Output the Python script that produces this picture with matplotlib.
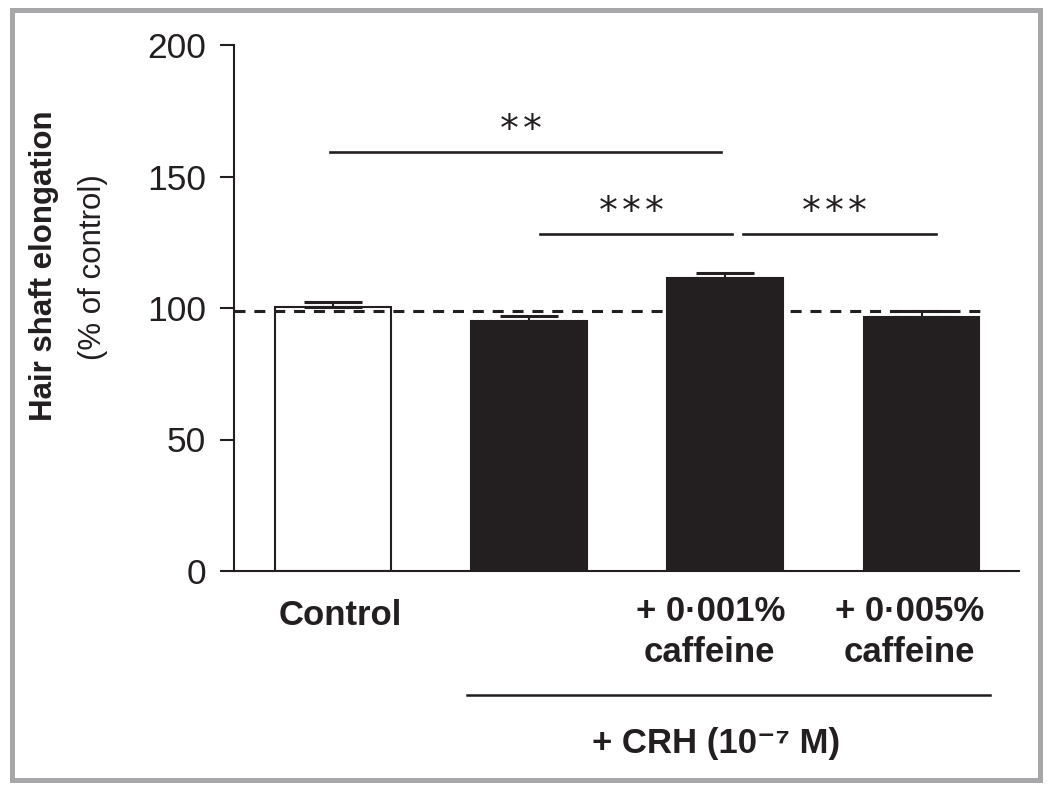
import numpy as np
import matplotlib
matplotlib.use('Agg')
import matplotlib.pyplot as plt
import matplotlib.transforms as mtransforms
from matplotlib.patches import Rectangle

plt.rcParams['font.family'] = ['Liberation Sans', 'DejaVu Sans']

# data
groups = ['Control', 'CRH', 'CRH + 0.001% caffeine', 'CRH + 0.005% caffeine']
means = [100.3, 94.9, 111.4, 96.7]
sem = [2.0, 2.2, 1.9, 2.0]
control_level = 98.9
# significance brackets: (x start, x end, height, stars)
brackets = [(-0.015, 1.98, 159.2, '**'),
            (1.055, 2.035, 128.0, '***'),
            (2.09, 3.073, 128.0, '***')]
yticks = [0, 50, 100, 150, 200]

dark = '#231f20'
fills = ['white', dark, dark, dark]

fig = plt.figure(figsize=(10.5, 7.89), dpi=100)
ax = fig.add_axes([234 / 1050, 1 - 571 / 789, (1019 - 234) / 1050, 526 / 789])

x = np.arange(len(groups))
ax.bar(x, means, width=0.59, color=fills, edgecolor=dark, linewidth=1.5, zorder=2)
ax.errorbar(x, means, yerr=[np.zeros(len(sem)), sem], fmt='none', ecolor=dark,
            elinewidth=1.5, capsize=21, capthick=2.2, zorder=3)

# dashed control reference
ax.plot([-0.505, 3.325], [control_level, control_level], color=dark, lw=2.2,
        dashes=(3.6, 2.9), zorder=4, solid_capstyle='butt')

# significance lines and stars
for x0, x1, h, stars in brackets:
    ax.plot([x0, x1], [h, h], color=dark, lw=1.9, clip_on=False)
    xc = (x0 + x1) / 2 - 0.025
    n = len(stars)
    for k in range(n):
        off = (k - (n - 1) / 2) * 23 * 0.72
        ax.annotate('*', xy=(xc, h + 4.2), xytext=(off, 0), textcoords='offset points',
                    ha='center', va='baseline', fontsize=27, color=dark,
                    family='DejaVu Sans', annotation_clip=False)

ax.set_xlim(-0.505, 3.497)
ax.set_ylim(0, 200)
ax.set_yticks(yticks)
ax.set_xticks([])
for s in ['top', 'right']:
    ax.spines[s].set_visible(False)
for s in ['left', 'bottom']:
    ax.spines[s].set_linewidth(1.5)
    ax.spines[s].set_color(dark)
ax.tick_params(axis='y', direction='out', length=10, width=1.5, pad=10,
               labelsize=25.5, colors=dark)

# group labels under the axis
trans = mtransforms.blended_transform_factory(ax.transData, ax.transAxes)
lab = dict(transform=trans, ha='center', va='baseline', fontsize=25,
           fontweight='bold', color=dark, clip_on=False)
ax.text(0.036, -0.1027, 'Control', **lab)
ax.text(1.927, -0.096, '+ 0·001%', **lab)
ax.text(1.92, -0.1722, 'caffeine', **lab)
ax.text(2.94, -0.096, '+ 0·005%', **lab)
ax.text(2.94, -0.1722, 'caffeine', **lab)

ax.plot([0.683, 3.349], [-0.2357, -0.2357], transform=trans, color=dark, lw=1.8,
        clip_on=False)
ax.text(1.952, -0.346, '+ CRH (10⁻⁷ M)', **lab)

# y label in two lines
fig.text(44 / 1050, 1 - 266 / 789, 'Hair shaft elongation', rotation=90,
         ha='center', va='center', fontsize=22.5, fontweight='bold', color=dark)
fig.text(93 / 1050, 1 - 267 / 789, '(% of control)', rotation=90,
         ha='center', va='center', fontsize=22.5, color=dark)

# grey frame round the figure
fig.patches.append(Rectangle((11.5 / 1050, 9.5 / 789), 1028 / 1050, 770 / 789,
                             transform=fig.transFigure, fill=False,
                             edgecolor='#a7a7aa', linewidth=3.6))

fig.savefig('out.png', dpi=100)
